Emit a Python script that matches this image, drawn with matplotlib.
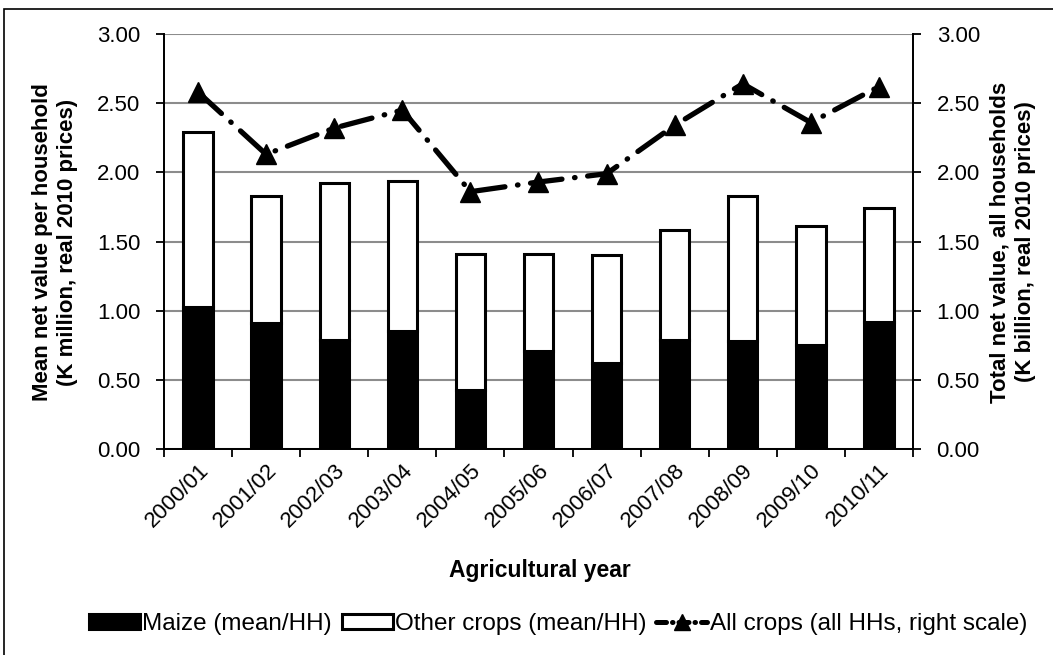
import matplotlib.pyplot as plt
import numpy as np
from matplotlib.patches import Patch, Rectangle
from matplotlib.lines import Line2D

plt.rcParams["font.family"] = ["Liberation Sans", "DejaVu Sans"]
plt.rcParams["font.size"] = 16

# agricultural years
years = ["2000/01", "2001/02", "2002/03", "2003/04", "2004/05", "2005/06",
         "2006/07", "2007/08", "2008/09", "2009/10", "2010/11"]

# mean net value per household (K million, real 2010 prices)
maize_mean = [1.03, 0.91, 0.79, 0.85, 0.43, 0.71, 0.625, 0.79, 0.78, 0.75, 0.92]
total_mean = [2.29, 1.83, 1.92, 1.94, 1.41, 1.41, 1.40, 1.58, 1.83, 1.61, 1.74]
other_mean = [t - m for t, m in zip(total_mean, maize_mean)]

# total net value, all households (K billion, real 2010 prices)
all_crops_total = [2.58, 2.13, 2.32, 2.45, 1.86, 1.93, 1.99, 2.34, 2.64, 2.36, 2.62]

W, H = 1053, 655
fig = plt.figure(figsize=(W / 100, H / 100), dpi=100)
ax = fig.add_axes([164 / W, 1 - 449 / H, (913 - 164) / W, (449 - 34) / H])
ax2 = ax.twinx()

x = np.arange(len(years))
bw = 0.43
ax.bar(x, maize_mean, bw, color="black", edgecolor="black", linewidth=2.2, zorder=3)
ax.bar(x, other_mean, bw, bottom=maize_mean, color="white", edgecolor="black",
       linewidth=2.2, zorder=3)

ax2.plot(x, all_crops_total, color="black", linewidth=3.8,
         linestyle=(0, (6, 2.4, 0.1, 2.4)), dash_capstyle="round",
         marker="^", markersize=14, zorder=4)

for a in (ax, ax2):
    a.set_ylim(0, 3)
    a.set_yticks(np.arange(0, 3.01, 0.5))
    a.yaxis.set_major_formatter(plt.FormatStrFormatter("%.2f"))
    a.set_xlim(-0.5, len(years) - 0.5)
    a.spines["top"].set_visible(False)
    for s in a.spines.values():
        s.set_linewidth(1.3)
    a.tick_params(axis="y", direction="out", length=6, width=1.3, pad=11)

ax.grid(axis="y", color="#8c8c8c", linewidth=1.5, zorder=0)
ax.set_axisbelow(True)

# category boundaries carry the tick marks, labels sit at centres
ax.set_xticks(np.arange(-0.5, len(years), 1.0))
ax.set_xticklabels([])
ax.set_xticks(x, minor=True)
ax.set_xticklabels(years, minor=True, rotation=45, ha="right", va="top",
                   rotation_mode="anchor")
ax.tick_params(axis="x", which="major", direction="out", length=6, width=1.3)
ax.tick_params(axis="x", which="minor", length=0, pad=8)
ax2.tick_params(axis="x", which="both", length=0)

fig.text(55 / W, 1 - 242 / H,
         "Mean net value per household\n(K million, real 2010 prices)",
         rotation=90, ha="center", va="center", fontweight="bold",
         linespacing=1.3)
fig.text(1013 / W, 1 - 242 / H,
         "Total net value, all households\n(K billion, real 2010 prices)",
         rotation=90, ha="center", va="center", fontweight="bold",
         linespacing=1.3)
fig.text(540 / W, 1 - 570 / H, "Agricultural year", ha="center", va="center",
         fontweight="bold", fontsize=16.5)

handles = [
    Patch(facecolor="black", edgecolor="black", linewidth=2.2),
    Patch(facecolor="white", edgecolor="black", linewidth=2.2),
    Line2D([], [], color="black", linewidth=3.6,
           linestyle=(0, (2, 1.2, 0.1, 1.2)), dash_capstyle="round",
           marker="^", markersize=12),
]
labels = ["Maize (mean/HH)", "Other crops (mean/HH)",
          "All crops (all HHs, right scale)"]
fig.legend(handles, labels, loc="center", bbox_to_anchor=(558 / W, 1 - 624 / H),
           ncol=3, frameon=False, fontsize=17.5, handlelength=2.1,
           handleheight=0.6, handletextpad=0.1, columnspacing=0.4,
           borderpad=0.2)

# outer frame
fig.patches.append(Rectangle((4 / W, -0.1), 1.1, 1.1 - 9 / H, fill=False,
                             edgecolor="black", linewidth=1.2,
                             transform=fig.transFigure))

fig.savefig("out.png", dpi=100)
